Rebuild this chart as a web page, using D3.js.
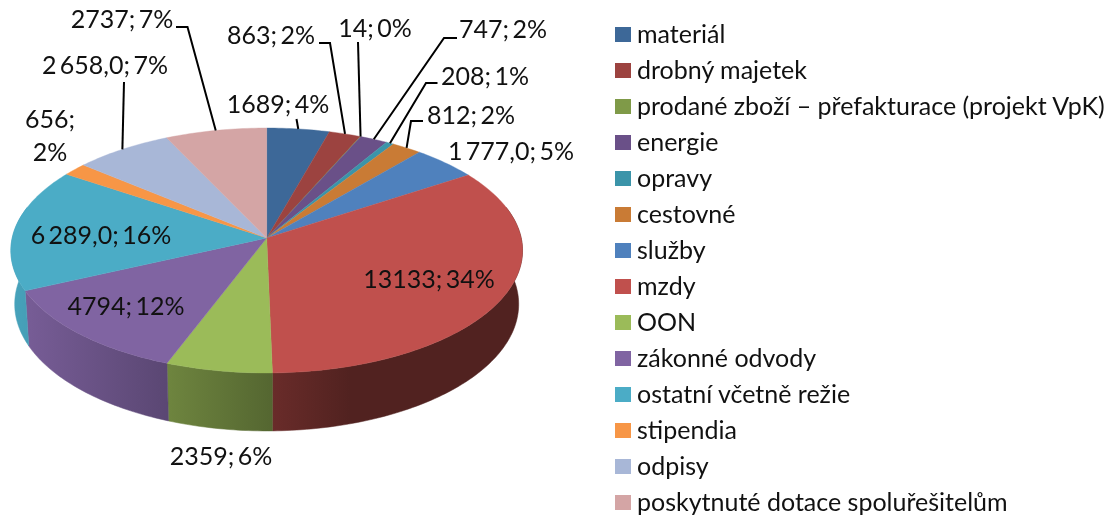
<!DOCTYPE html>
<html>
<head>
<meta charset="utf-8">
<script src="https://d3js.org/d3.v7.min.js"></script>
<style>
    html, body { margin: 0; padding: 0; background: #fff; }
    svg { display: block; filter: blur(0.45px); }
    text { font-family: Lato, sans-serif; fill: #111; }
</style>
</head>
<body>
<svg id="chart" width="1114" height="519"></svg>
<script>
    // data
    var categories = ["materiál", "drobný majetek", "prodané zboží – přefakturace (projekt VpK)", "energie",
        "opravy", "cestovné", "služby", "mzdy", "OON", "zákonné odvody", "ostatní včetně režie",
        "stipendia", "odpisy", "poskytnuté dotace spoluřešitelům"];
    var values = [1689, 863, 14, 747, 208, 812, 1777, 13133, 2359, 4794, 6289, 656, 2658, 2737];
    var valueLabels = ["1689", "863", "14", "747", "208", "812", "1 777,0", "13133", "2359", "4794", "6 289,0", "656", "2 658,0", "2737"];
    var percents = ["4%", "2%", "0%", "2%", "1%", "2%", "5%", "34%", "6%", "12%", "16%", "2%", "7%", "7%"];
    var colors = ["#3d6898", "#9c4340", "#7f9a48", "#6a5088", "#3b94a9", "#c97b35", "#4f81bd",
        "#c0504d", "#9bbb59", "#8064a2", "#4bacc6", "#f79646", "#a8b7d7", "#d4a5a5"];

    // where each data label sits, [center x, center y], by slice index (prodané has its label "14; 0%")
    var labelPos = [[278, 104], [271, 35], [375, 28], [503, 29], [485, 76], [471, 115], [511, 151],
        [429, 279], [221, 456], [126, 306], [101, 235], [50, 0], [105, 65], [122, 19]];
    // leader lines: start next to the label, optional elbow, the end is on the rim of the slice
    var leaders = {
        0: [[296.5, 119]],
        1: [[319, 43], [330, 43]],
        2: [[358, 42]],
        3: [[457, 38], [444, 38]],
        4: [[437.5, 83], [426, 83]],
        5: [[423, 121], [411, 121]],
        12: [[124, 82]],
        13: [[176, 27], [187.5, 27]]
    };

    var labelFont = 25, legendFont = 25;
    var svg = d3.select("#chart");
    var defs = svg.append("defs");

    // pie geometry, a disk seen in perspective from above
    var cx = 266.7, cy = 238, A = 254.5, B = 121.2, k = 0.102;
    var rad = Math.PI / 180;

    function rim(a) {
        var u = Math.sin(a), v = -Math.cos(a), w = 1 - k * v;
        return [cx + A * u / w, cy + B * v / w];
    }
    function rimBottom(a) {
        var p = rim(a);
        return [cx + (p[0] - cx) * 0.985, p[1] + 55 + 0.035 * (p[1] - 288)];
    }
    function arcPoints(a0, a1, fn) {
        var n = Math.max(2, Math.ceil((a1 - a0) / (1 * rad)));
        return d3.range(n + 1).map(function (i) { return fn(a0 + (a1 - a0) * i / n); });
    }

    var pie = d3.pie().sort(null).value(function (d) { return d; });
    var arcs = pie(values);
    var line = d3.line();

    // side wall gets darker from the left edge to the front and right
    var shade = d3.scaleLinear().domain([10, 160, 270, 350, 523]).range([0.95, 0.72, 0.55, 0.42, 0.42]);
    var wallFrom = 75 * rad, wallTo = 285 * rad;

    var walls = svg.append("g");
    arcs.forEach(function (d, i) {
        var a0 = Math.max(d.startAngle, wallFrom), a1 = Math.min(d.endAngle, wallTo);
        if (a1 <= a0) return;
        var id = "side" + i;
        var grad = defs.append("linearGradient").attr("id", id)
            .attr("gradientUnits", "userSpaceOnUse")
            .attr("x1", 10).attr("x2", 523).attr("y1", 0).attr("y2", 0);
        shade.domain().forEach(function (x) {
            var base = d3.rgb(colors[i]), m = shade(x);
            grad.append("stop").attr("offset", (x - 10) / 513)
                .attr("stop-color", d3.rgb(base.r * m, base.g * m, base.b * m).formatHex());
        });
        var pts = arcPoints(a0, a1, rim).concat(arcPoints(a0, a1, rimBottom).reverse());
        walls.append("path").attr("d", line(pts) + "Z")
            .attr("fill", "url(#" + id + ")")
            .attr("stroke", "url(#" + id + ")").attr("stroke-width", 0.5);
    });

    svg.append("g").selectAll("path")
        .data(arcs)
        .enter()
        .append("path")
        .attr("d", function (d) {
            return line([[cx, cy]].concat(arcPoints(d.startAngle, d.endAngle, rim))) + "Z";
        })
        .attr("fill", function (d, i) { return colors[i]; })
        .attr("stroke", function (d, i) { return colors[i]; })
        .attr("stroke-width", 0.4);

    // leader lines
    var leaderG = svg.append("g");
    Object.keys(leaders).forEach(function (i) {
        var d = arcs[+i];
        var end = rim((d.startAngle + d.endAngle) / 2);
        leaderG.append("path")
            .attr("d", line(leaders[i].concat([end])))
            .attr("fill", "none")
            .attr("stroke", "#000")
            .attr("stroke-width", 2);
    });

    // data labels
    var labelG = svg.append("g").style("font-size", labelFont + "px").style("word-spacing", "-3px");
    arcs.forEach(function (d, i) {
        var text = valueLabels[i] + "; " + percents[i];
        if (i == 11) {
            // this one wraps on two lines
            labelG.append("text").attr("x", 50).attr("y", 119).attr("dy", "0.35em").attr("text-anchor", "middle").text(valueLabels[i] + ";");
            labelG.append("text").attr("x", 50).attr("y", 152).attr("dy", "0.35em").attr("text-anchor", "middle").text(percents[i]);
            return;
        }
        labelG.append("text")
            .attr("x", labelPos[i][0]).attr("y", labelPos[i][1])
            .attr("dy", "0.35em")
            .attr("text-anchor", "middle")
            .text(text);
    });

    // legend
    var legendY = d3.scalePoint().domain(d3.range(categories.length)).range([34, 502]);
    var legend = svg.append("g").selectAll("g")
        .data(categories)
        .enter()
        .append("g")
        .attr("transform", function (d, i) { return "translate(615," + legendY(i) + ")"; });
    legend.append("rect")
        .attr("x", 0).attr("y", -7).attr("width", 16).attr("height", 15)
        .attr("fill", function (d, i) { return colors[i]; });
    legend.append("text")
        .attr("x", 22)
        .attr("dy", "0.35em")
        .style("font-size", legendFont + "px")
        .text(function (d) { return d; });
</script>
</body>
</html>
